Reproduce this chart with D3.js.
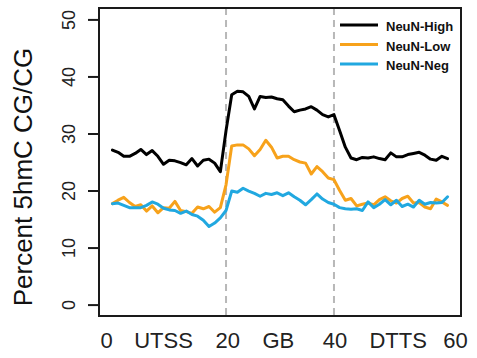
<!DOCTYPE html>
<html>
<head>
<meta charset="utf-8">
<script src="https://cdn.jsdelivr.net/npm/d3@7"></script>
<style>
  html, body { margin: 0; padding: 0; background: #fff; }
  svg { display: block; font-family: "Liberation Sans", Arial, Helvetica, sans-serif; }
</style>
</head>
<body>
<svg id="chart" width="477" height="358"></svg>
<script>
// Metagene profile of 5hmC: 20 bins upstream of the TSS, 20 across the gene body, 20 downstream of the TTS
const bins = d3.range(1, 61);

const neunHigh = [
  27.1, 26.7, 26.0, 26.0, 26.5, 27.2, 26.3, 27.0, 26.0, 24.6,
  25.3, 25.2, 24.9, 24.5, 25.6, 24.3, 25.3, 25.5, 24.8, 23.3,
  30.5, 36.8, 37.4, 37.3, 36.5, 34.3, 36.5, 36.3, 36.4, 36.1,
  35.9, 34.8, 33.8, 34.1, 34.3, 34.7, 34.1, 33.3, 32.9, 33.3,
  30.5, 27.6, 25.7, 25.4, 25.8, 25.7, 25.9, 25.6, 25.4, 26.6,
  25.9, 25.9, 26.3, 26.5, 26.7, 26.2, 25.5, 25.3, 26.0, 25.6
];

const neunLow = [
  17.7, 18.3, 18.8, 17.9, 17.2, 17.5, 16.4, 17.3, 16.1, 17.0,
  16.9, 18.1, 16.5, 16.3, 16.0, 17.1, 16.8, 17.2, 16.2, 17.0,
  21.0, 27.8, 28.0, 28.0, 27.3, 26.1, 27.2, 28.8, 27.6, 25.7,
  26.0, 26.0, 25.4, 25.0, 24.8, 22.9, 24.2, 23.3, 22.2, 21.9,
  20.0, 18.3, 18.6, 17.3, 17.6, 17.8, 17.5, 18.4, 18.9, 18.2,
  17.8, 18.6, 19.0, 17.8, 17.9, 17.1, 16.8, 18.5, 18.0, 17.4
];

const neunNeg = [
  17.7, 17.8, 17.4, 17.0, 17.0, 17.0, 17.4, 18.0, 17.6, 16.9,
  16.6, 16.5, 16.0, 16.4, 15.8, 15.5, 14.8, 13.7, 14.3, 15.2,
  16.5, 19.9, 19.7, 20.4, 19.9, 19.5, 19.0, 19.5, 19.3, 19.6,
  19.1, 19.6, 18.9, 18.3, 17.5, 18.4, 19.4, 18.5, 17.9, 17.6,
  17.0, 16.8, 16.7, 16.8, 16.5, 18.0, 17.0, 17.6, 18.4, 17.5,
  18.3, 17.2, 17.6, 17.1, 18.3, 17.6, 17.9, 17.8, 17.9, 18.9
];

const seriesNames = ["NeuN-High", "NeuN-Low", "NeuN-Neg"];
const seriesColors = ["#000000", "#f7a21b", "#21a8e0"];

const yTicks = [0, 10, 20, 30, 40, 50];
const xLabels = ["0", "UTSS", "20", "GB", "40", "DTTS", "60"];
const xLabelPos = [0, 10, 21.3, 30.2, 40.2, 51.3, 61.4];
const boundaries = [21, 40];   // TSS and TTS bin edges

const svg = d3.select("#chart");
const box = { left: 99, right: 461, top: 8, bottom: 316 };

// R-style axis ranges: data extent padded by 4% on each side
const xPad = (d3.max(bins) - d3.min(bins)) * 0.04;
const x = d3.scaleLinear()
  .domain([d3.min(bins) - xPad, d3.max(bins) + xPad])
  .range([box.left, box.right]);
const y = d3.scaleLinear()
  .domain([-2, 52])
  .range([box.bottom, box.top]);

// region boundaries
svg.append("g")
  .selectAll("line")
  .data(boundaries)
  .join("line")
  .attr("x1", d => x(d)).attr("x2", d => x(d))
  .attr("y1", box.top).attr("y2", box.bottom)
  .attr("stroke", "#b8b8b8")
  .attr("stroke-width", 2)
  .attr("stroke-dasharray", "7,5");

// profiles
const line = d3.line()
  .x((d, i) => x(bins[i]))
  .y(d => y(d));

const allSeries = [neunHigh, neunLow, neunNeg];
svg.append("g")
  .selectAll("path")
  .data(allSeries)
  .join("path")
  .attr("d", d => line(d))
  .attr("fill", "none")
  .attr("stroke", (d, i) => seriesColors[i])
  .attr("stroke-width", 3)
  .attr("stroke-linejoin", "round")
  .attr("stroke-linecap", "round");

// plot frame
svg.append("rect")
  .attr("x", box.left).attr("y", box.top)
  .attr("width", box.right - box.left)
  .attr("height", box.bottom - box.top)
  .attr("fill", "none")
  .attr("stroke", "#1a1a1a")
  .attr("stroke-width", 2);

// y axis
const yAxis = d3.axisLeft(y)
  .tickValues(yTicks)
  .tickSize(11)
  .tickPadding(13)
  .tickFormat(d3.format("d"));
const gy = svg.append("g")
  .attr("transform", `translate(${box.left},0)`)
  .call(yAxis);
gy.select(".domain")
  .attr("d", `M0,${y(0)}V${y(50)}`)
  .attr("stroke", "#1a1a1a")
  .attr("stroke-width", 2);
gy.selectAll(".tick line")
  .attr("stroke", "#1a1a1a")
  .attr("stroke-width", 2);
gy.selectAll(".tick text")
  .attr("x", null).attr("dy", null)
  .attr("transform", "translate(-24,0) rotate(-90)")
  .attr("text-anchor", "middle")
  .attr("font-size", 18)
  .attr("fill", "#222");

// x labels
svg.append("g")
  .selectAll("text")
  .data(xLabels)
  .join("text")
  .attr("x", (d, i) => x(xLabelPos[i]))
  .attr("y", 348)
  .attr("text-anchor", "middle")
  .attr("font-size", 22)
  .attr("fill", "#222")
  .text(d => d);

// y title
svg.append("text")
  .attr("transform", `translate(32,${(box.top + box.bottom) / 2 + 15}) rotate(-90)`)
  .attr("text-anchor", "middle")
  .attr("font-size", 26)
  .attr("fill", "#111")
  .text("Percent 5hmC CG/CG");

// legend
const legend = svg.append("g").attr("transform", "translate(340,25)");
const item = legend.selectAll("g")
  .data(seriesNames)
  .join("g")
  .attr("transform", (d, i) => `translate(0,${i * 19.5})`);
item.append("line")
  .attr("x1", 0).attr("x2", 38)
  .attr("stroke", (d, i) => seriesColors[i])
  .attr("stroke-width", 3);
item.append("text")
  .attr("x", 46)
  .attr("y", 6)
  .attr("font-size", 13)
  .attr("font-weight", "bold")
  .attr("fill", "#111")
  .text(d => d);
</script>
</body>
</html>
